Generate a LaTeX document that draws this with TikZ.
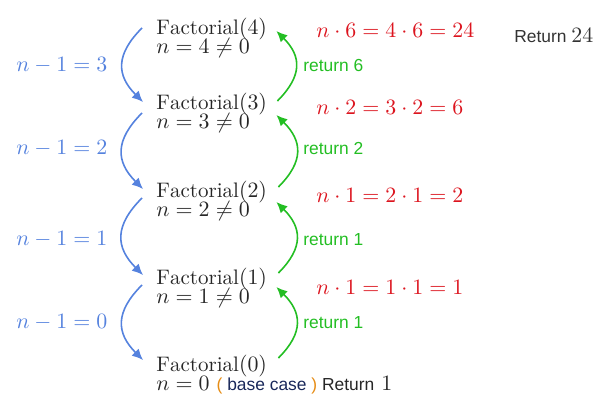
\documentclass[tikz,border=0pt]{standalone}
\usepackage{amsmath}
\usepackage{fontspec}
\setsansfont{Liberation Sans}
\usepackage{tikz}
\usetikzlibrary{arrows.meta}
\definecolor{azul}{RGB}{85,130,222}
\definecolor{verde}{RGB}{35,190,35}
\definecolor{vermelho}{RGB}{220,20,30}
\definecolor{laranja}{RGB}{230,140,20}
\definecolor{marinho}{RGB}{25,40,90}
\tikzset{
  fat/.style={anchor=base west,inner sep=0pt,font=\fontsize{10.5}{12}\selectfont,text=black!85},
  fatT/.style={fat,text depth=0pt},
  cond/.style={fat,text height=6.8pt},
  desce/.style={-{Latex[length=5.5pt,width=5pt]},line width=0.8pt,azul,looseness=1.3},
  sobe/.style={-{Latex[length=5.5pt,width=5pt]},line width=0.8pt,verde,looseness=1.3},
  rotA/.style={fat,text=azul},
  rotV/.style={anchor=base west,inner sep=0pt,font=\sffamily\fontsize{8.7}{10}\selectfont,text=verde},
  conta/.style={fat,text=vermelho},
  texto/.style={anchor=base west,inner sep=0pt,font=\sffamily\fontsize{8.7}{10}\selectfont,text=black!80},
}
\newcommand{\fat}[1]{$\mathrm{Factorial}(#1)$}

\begin{document}
\begin{tikzpicture}[x=0.5pt,y=0.5pt]
\useasboundingbox (0,0) rectangle (609,416);
% chamadas
\node[fatT] (f4) at (156,381) {\fat{4}};
\node[cond] (c4) at ([yshift=-9.5pt]f4.base west) {$n=4\neq0$};
\node[fatT] (f3) at (156,306) {\fat{3}};
\node[cond] (c3) at ([yshift=-9.5pt]f3.base west) {$n=3\neq0$};
\node[fatT] (f2) at (156,218) {\fat{2}};
\node[cond] (c2) at ([yshift=-9.5pt]f2.base west) {$n=2\neq0$};
\node[fatT] (f1) at (156,131) {\fat{1}};
\node[cond] (c1) at ([yshift=-9.5pt]f1.base west) {$n=1\neq0$};
\node[fatT] (f0) at (156,44) {\fat{0}};
\node[cond] (c0) at ([yshift=-9.2pt]f0.base west) {$n=0$ {\sffamily\fontsize{8.7}{10}\selectfont\textcolor{laranja}{(} \textcolor{marinho}{base case} \textcolor{laranja}{)} Return} $1$};
% descida
\draw[desce] ([shift={(-7pt,3.5pt)}]f4.base west) to[out=225,in=135] ([shift={(-6.5pt,4pt)}]f3.base west);
\draw[desce] ([shift={(-7pt,-1.5pt)}]f3.base west) to[out=225,in=135] ([shift={(-6.5pt,4.5pt)}]f2.base west);
\draw[desce] ([shift={(-7pt,0pt)}]f2.base west) to[out=225,in=135] ([shift={(-6.5pt,5pt)}]f1.base west);
\draw[desce] ([shift={(-7pt,0pt)}]f1.base west) to[out=225,in=135] ([shift={(-6.5pt,6pt)}]f0.base west);
\node[rotA] (a4) at (16,344) {$n-1=3$};
\node[rotA] (a3) at (16,261) {$n-1=2$};
\node[rotA] (a2) at (16,170) {$n-1=1$};
\node[rotA] (a1) at (16,87) {$n-1=0$};
% subida
\draw[sobe] ([shift={(5pt,4.5pt)}]f3.base east) to[out=45,in=-45] ([shift={(4.5pt,2pt)}]f4.base east);
\draw[sobe] ([shift={(5.5pt,5.5pt)}]f2.base east) to[out=45,in=-45] ([shift={(4.5pt,-2.5pt)}]f3.base east);
\draw[sobe] ([shift={(5.5pt,6pt)}]f1.base east) to[out=45,in=-45] ([shift={(4.5pt,-2pt)}]f2.base east);
\draw[sobe] ([shift={(5.5pt,7pt)}]f0.base east) to[out=45,in=-45] ([shift={(4.5pt,-1pt)}]f1.base east);
\node[rotV] (v4) at (303,344) {return 6};
\node[rotV] (v3) at (303,261) {return 2};
\node[rotV] (v2) at (303,170) {return 1};
\node[rotV] (v1) at (303,87) {return 1};
% contas
\node[conta] (m4) at (316,378) {$n\cdot6=4\cdot6=24$};
\node[conta] (m3) at (316,301) {$n\cdot2=3\cdot2=6$};
\node[conta] (m2) at (316,213) {$n\cdot1=2\cdot1=2$};
\node[conta] (m1) at (316,121) {$n\cdot1=1\cdot1=1$};
\node[texto] (r) at (514,373) {Return {\rmfamily\fontsize{10.5}{12}\selectfont$24$}};
\end{tikzpicture}
\end{document}
